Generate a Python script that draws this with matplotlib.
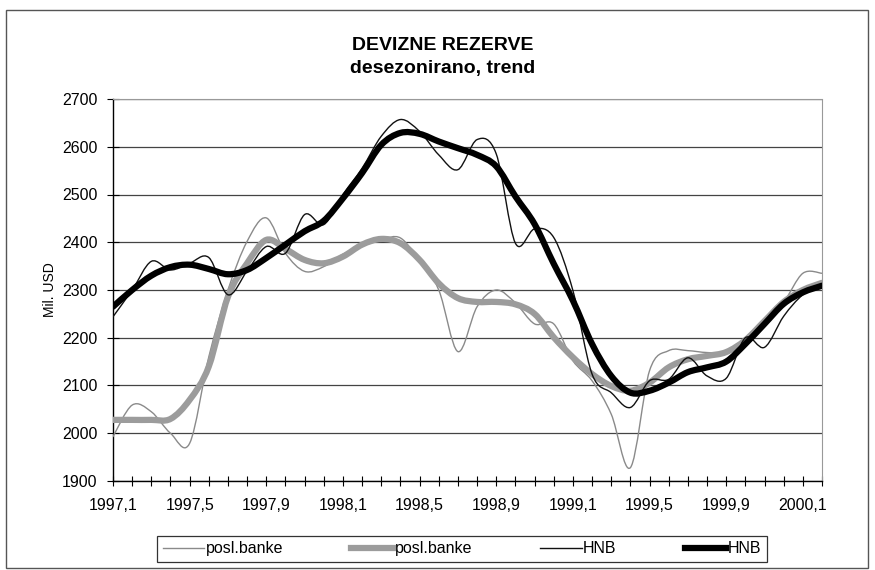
import numpy as np
import matplotlib
matplotlib.use("Agg")
import matplotlib.pyplot as plt
from matplotlib.path import Path
from matplotlib.patches import PathPatch, Rectangle
from matplotlib.lines import Line2D

plt.rcParams['font.family'] = ['Liberation Sans', 'DejaVu Sans']

# monthly data, 1997,1 .. 2000,2
months = np.arange(38)
tick_labels = ['1997,1', '1997,5', '1997,9', '1998,1', '1998,5', '1998,9',
               '1999,1', '1999,5', '1999,9', '2000,1']

banke = [1993, 2059, 2045, 2000, 1979, 2160, 2300, 2402, 2451, 2377,
         2339, 2349, 2375, 2392, 2405, 2409, 2360, 2300, 2171, 2265,
         2300, 2273, 2229, 2229, 2152, 2110, 2040, 1928, 2131, 2173,
         2173, 2169, 2170, 2190, 2240, 2275, 2335, 2335]
banke_trend = [2028, 2028, 2028, 2030, 2070, 2140, 2286, 2356, 2405, 2386,
               2363, 2356, 2370, 2395, 2407, 2398, 2363, 2314, 2283, 2275,
               2275, 2270, 2250, 2201, 2159, 2124, 2099, 2089, 2106, 2138,
               2155, 2162, 2170, 2195, 2235, 2275, 2300, 2315]
hnb = [2244, 2300, 2360, 2342, 2356, 2368, 2290, 2340, 2391, 2377,
       2458, 2437, 2500, 2555, 2622, 2657, 2632, 2583, 2552, 2615,
       2585, 2398, 2428, 2410, 2299, 2124, 2085, 2054, 2110, 2113,
       2158, 2120, 2115, 2200, 2180, 2245, 2290, 2310]
hnb_trend = [2265, 2300, 2330, 2348, 2353, 2344, 2333, 2342, 2367, 2395,
             2423, 2445, 2492, 2545, 2604, 2629, 2627, 2611, 2597, 2583,
             2559, 2496, 2438, 2355, 2278, 2187, 2120, 2085, 2089, 2106,
             2128, 2138, 2150, 2187, 2229, 2271, 2295, 2309]


def smooth_path(x, y):
    # excel-like smoothed line: catmull-rom segments as cubic bezier
    p = np.column_stack([x, y]).astype(float)
    n = len(p)
    verts = [p[0]]
    codes = [Path.MOVETO]
    for i in range(n - 1):
        p0 = p[max(i - 1, 0)]
        p1 = p[i]
        p2 = p[i + 1]
        p3 = p[min(i + 2, n - 1)]
        c1 = p1 + (p2 - p0) / 6.0
        c2 = p2 - (p3 - p1) / 6.0
        verts += [c1, c2, p2]
        codes += [Path.CURVE4] * 3
    return Path(verts, codes)


fig = plt.figure(figsize=(8.75, 5.7), dpi=100)
ax = fig.add_axes([113 / 875, 1 - 481 / 570, 709 / 875, 382 / 570])

series = [
    (banke, dict(color='#8a8a8a', lw=1.0), 'posl.banke'),
    (banke_trend, dict(color='#9c9c9c', lw=4.5), 'posl.banke'),
    (hnb, dict(color='#111111', lw=1.0), 'HNB'),
    (hnb_trend, dict(color='#000000', lw=4.5), 'HNB'),
]
handles = []
for vals, st, lab in series:
    patch = PathPatch(smooth_path(months, vals), facecolor='none',
                      edgecolor=st['color'], lw=st['lw'],
                      capstyle='round', joinstyle='round', zorder=3)
    ax.add_patch(patch)
    handles.append(Line2D([], [], color=st['color'], lw=st['lw'], label=lab))

ax.set_xlim(0, 37)
ax.set_ylim(1900, 2700)
ax.set_yticks(np.arange(1900, 2701, 100))
ax.set_xticks(months[::4])
ax.set_xticklabels(tick_labels)
ax.set_xticks(months, minor=True)
ax.yaxis.grid(True, color='#444444', lw=0.9)
ax.set_axisbelow(True)

ax.tick_params(axis='both', which='both', direction='inout', labelsize=11.5,
               color='black', width=0.8)
ax.tick_params(axis='x', which='both', length=7, pad=9)
ax.tick_params(axis='y', length=8, pad=7)
for s in ['top', 'right']:
    ax.spines[s].set_color('#999999')
    ax.spines[s].set_linestyle((0, (1, 1)))
for s in ['left', 'bottom']:
    ax.spines[s].set_color('black')
    ax.spines[s].set_linewidth(1.0)

ax.set_ylabel('Mil. USD', fontsize=10, labelpad=4)

fig.text(443 / 875, 1 - 46 / 570, 'DEVIZNE REZERVE', ha='center', va='center',
         fontsize=14, fontweight='bold')
fig.text(443 / 875, 1 - 69 / 570, 'desezonirano, trend', ha='center',
         va='center', fontsize=14, fontweight='bold')

leg = ax.legend(handles=handles, ncol=4, loc='lower left', mode='expand',
                bbox_to_anchor=((157 - 113) / 709, (481 - 562) / 382,
                                610 / 709, 29 / 382),
                borderaxespad=0, frameon=True, fancybox=False,
                edgecolor='black', fontsize=11.5, handlelength=2.6,
                handletextpad=0.1, columnspacing=1.0, borderpad=0.35)
leg.get_frame().set_linewidth(0.9)

fig.patches.append(Rectangle((6 / 875, 2 / 570), 862 / 875, 558 / 570,
                             transform=fig.transFigure, fill=False,
                             edgecolor='#555555', lw=1.0))

fig.savefig('out.png', dpi=100)
